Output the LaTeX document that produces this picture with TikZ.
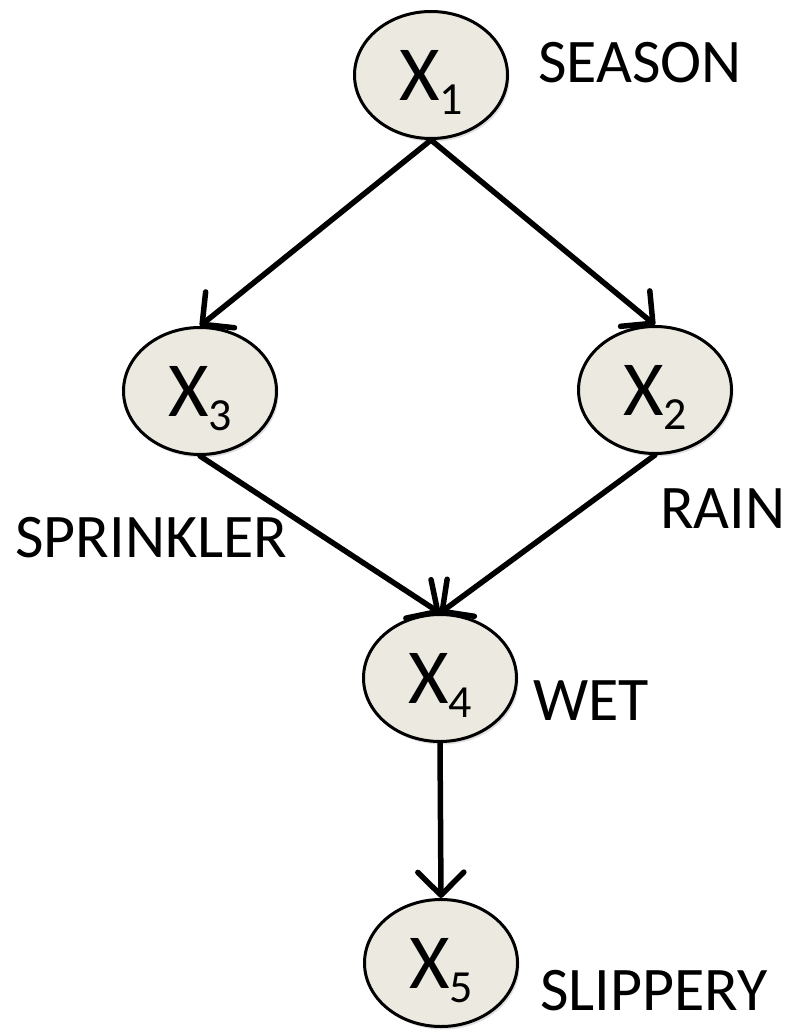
\documentclass[tikz,border=0pt]{standalone}
\usepackage{fontspec}
\setmainfont{Carlito}
\usetikzlibrary{shapes.geometric,arrows.meta,shadows}
\definecolor{nodefill}{RGB}{236,234,224}
\newcommand{\xvar}[1]{\fontsize{78}{78}\selectfont X\raisebox{-14pt}[0pt][0pt]{\fontsize{46}{46}\selectfont #1}}
\tikzset{
  var/.style={ellipse, draw=black, line width=3pt, fill=nodefill,
    minimum width=153pt, minimum height=127pt, inner sep=0pt,
    drop shadow={shadow xshift=2pt, shadow yshift=-3pt, opacity=0.25}},
  lbl/.style={anchor=base west, inner sep=0pt, font=\fontsize{62}{62}\selectfont},
  conn/.style={line width=5.5pt, line cap=round,
    -{Straight Barb[length=23pt, width=46pt, round]}}
}
\begin{document}
\begin{tikzpicture}[x=1pt,y=-1pt]
\useasboundingbox (0,0) rectangle (786,1032);
\node[var] (x1) at (431,75) {\xvar{1}};
\node[var] (x3) at (200,391) {\xvar{3}};
\node[var] (x2) at (655,390) {\xvar{2}};
\node[var] (x4) at (440,678) {\xvar{4}};
\node[var] (x5) at (441,963) {\xvar{5}};
\node[lbl] (lseason) at (538,83) {SEASON};
\node[lbl] (lsprinkler) at (15,557) {SPRINKLER};
\node[lbl] (lrain) at (660,528) {RAIN};
\node[lbl] (lwet) at (533,720) {WET};
\node[lbl] (lslippery) at (540,1010) {SLIPPERY};
\draw[conn] (x1.south) -- (x3.north);
\draw[conn] (x1.south) -- (x2.north);
\draw[conn] (x3.south) -- (x4.north);
\draw[conn] (x2.south) -- (x4.north);
\draw[conn] (x4.south) -- (x5.north);
\end{tikzpicture}
\end{document}
